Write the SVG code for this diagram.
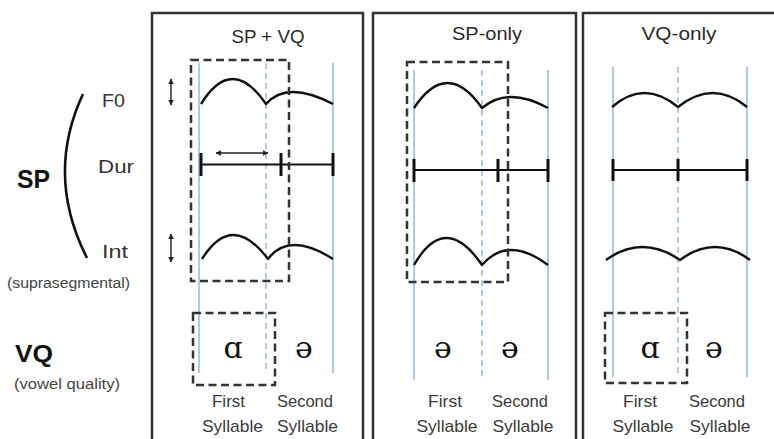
<svg xmlns="http://www.w3.org/2000/svg" width="774" height="439" viewBox="0 0 774 439">
<style>
text{font-family:"Liberation Sans",Arial,sans-serif;fill:#2a2a2a}
.panel{fill:none;stroke:#333;stroke-width:2.5}
.blue{stroke:#9bbbe3;stroke-width:1.6;fill:none}
.bdash{stroke:#9bbbe3;stroke-width:1.6;fill:none;stroke-dasharray:6 4}
.curve{fill:none;stroke:#111;stroke-width:2.4;stroke-linejoin:round}
.dur{stroke:#111;stroke-width:2.2}
.tick{stroke:#111;stroke-width:3}
.box{fill:none;stroke:#333;stroke-width:2.5;stroke-dasharray:8 4.5}
.arr{stroke:#222;stroke-width:1.4;fill:none;marker-start:url(#ah);marker-end:url(#ah)}
.title{font-size:18px;text-anchor:middle}
.lab{font-size:17px;text-anchor:middle;fill:#3a3a3a}
.ipa{font-family:"DejaVu Serif","Liberation Serif",serif;font-size:30px;text-anchor:middle;fill:#111}
.side{font-size:19px;fill:#333}
.big{font-size:26px;font-weight:bold;fill:#111}
.small{font-size:14px;fill:#444}
</style>
<defs>
<marker id="ah" viewBox="0 0 10 10" refX="9" refY="5" markerWidth="4" markerHeight="4" orient="auto-start-reverse">
<path d="M0,0 L10,5 L0,10 z" fill="#222"/>
</marker>
</defs>

<g id="legend">
<path d="M83,94 Q45,175 87,258" fill="none" stroke="#111" stroke-width="2.6"/>
<text class="big" x="17" y="188" textLength="33" lengthAdjust="spacingAndGlyphs">SP</text>
<text class="side" x="102" y="107" textLength="23" lengthAdjust="spacingAndGlyphs">F0</text>
<text class="side" x="98" y="173" textLength="36" lengthAdjust="spacingAndGlyphs">Dur</text>
<text class="side" x="102" y="258" textLength="26" lengthAdjust="spacingAndGlyphs">Int</text>
<text class="small" x="7" y="288" textLength="123" lengthAdjust="spacingAndGlyphs">(suprasegmental)</text>
<text class="big" x="15" y="362" style="font-size:24px" textLength="38" lengthAdjust="spacingAndGlyphs">VQ</text>
<text class="small" x="14" y="389" textLength="106" lengthAdjust="spacingAndGlyphs">(vowel quality)</text>
</g>

<g id="panel-sp-vq">
<rect class="panel" x="152" y="13" width="211" height="440"/>
<text class="title" x="268" y="43" textLength="73" lengthAdjust="spacingAndGlyphs">SP + VQ</text>
<line class="blue" x1="199" y1="63" x2="199" y2="373"/>
<line class="bdash" x1="266" y1="63" x2="266" y2="373"/>
<line class="blue" x1="333" y1="63" x2="333" y2="373"/>
<path class="curve" d="M201,104 Q232,54 266,104 Q287,80 333,104"/>
<line class="dur" x1="201" y1="164.5" x2="333" y2="164.5"/>
<line class="tick" x1="201" y1="153" x2="201" y2="176"/>
<line class="tick" x1="281" y1="153" x2="281" y2="176"/>
<line class="tick" x1="333" y1="153" x2="333" y2="176"/>
<path class="curve" d="M202,259 Q232,211 268,259 Q289,231 333,259"/>
<rect class="box" x="191" y="60" width="98" height="221"/>
<rect class="box" x="193" y="313" width="82" height="72"/>
<text class="ipa" x="233" y="358">ɑ</text>
<text class="ipa" x="304" y="358">ə</text>
<text class="lab" x="228.5" y="407" textLength="33" lengthAdjust="spacingAndGlyphs">First</text>
<text class="lab" x="232.5" y="432" textLength="61" lengthAdjust="spacingAndGlyphs">Syllable</text>
<text class="lab" x="305" y="407" textLength="56" lengthAdjust="spacingAndGlyphs">Second</text>
<text class="lab" x="307.5" y="432" textLength="61" lengthAdjust="spacingAndGlyphs">Syllable</text>
</g>

<g id="panel-sp-only">
<rect class="panel" x="373" y="13" width="203" height="440"/>
<text class="title" x="487" y="40" textLength="70" lengthAdjust="spacingAndGlyphs">SP-only</text>
<line class="blue" x1="414" y1="70" x2="414" y2="380"/>
<line class="bdash" x1="482" y1="70" x2="482" y2="380"/>
<line class="blue" x1="548" y1="70" x2="548" y2="380"/>
<path class="curve" d="M414,108 Q447,58 482,108 Q508,86 548,108"/>
<line class="dur" x1="414" y1="170" x2="548" y2="170"/>
<line class="tick" x1="414" y1="159" x2="414" y2="182"/>
<line class="tick" x1="498" y1="159" x2="498" y2="182"/>
<line class="tick" x1="548" y1="159" x2="548" y2="182"/>
<path class="curve" d="M414,265 Q445,211 482,265 Q508,235 548,265"/>
<rect class="box" x="407" y="62" width="101" height="220"/>
<text class="ipa" x="443" y="358">ə</text>
<text class="ipa" x="510" y="358">ə</text>
<text class="lab" x="445" y="407" textLength="34" lengthAdjust="spacingAndGlyphs">First</text>
<text class="lab" x="447" y="432" textLength="61" lengthAdjust="spacingAndGlyphs">Syllable</text>
<text class="lab" x="520" y="407" textLength="56" lengthAdjust="spacingAndGlyphs">Second</text>
<text class="lab" x="523" y="432" textLength="61" lengthAdjust="spacingAndGlyphs">Syllable</text>
</g>

<g id="panel-vq-only">
<rect class="panel" x="583" y="13" width="200" height="440"/>
<text class="title" x="679" y="40" textLength="75" lengthAdjust="spacingAndGlyphs">VQ-only</text>
<line class="blue" x1="613" y1="67" x2="613" y2="377"/>
<line class="bdash" x1="678" y1="67" x2="678" y2="377"/>
<line class="blue" x1="747" y1="67" x2="747" y2="377"/>
<path class="curve" d="M612,107 Q644,79 678,107 Q713,79 747,107"/>
<line class="dur" x1="613" y1="170" x2="747" y2="170"/>
<line class="tick" x1="613" y1="159" x2="613" y2="181"/>
<line class="tick" x1="678" y1="159" x2="678" y2="181"/>
<line class="tick" x1="747" y1="159" x2="747" y2="181"/>
<path class="curve" d="M606,260 Q642,234 680,260 Q715,234 750,260"/>
<rect class="box" x="605" y="313" width="82" height="70"/>
<text class="ipa" x="650" y="358">ɑ</text>
<text class="ipa" x="714" y="358">ə</text>
<text class="lab" x="640" y="407" textLength="34" lengthAdjust="spacingAndGlyphs">First</text>
<text class="lab" x="643" y="432" textLength="61" lengthAdjust="spacingAndGlyphs">Syllable</text>
<text class="lab" x="717" y="407" textLength="56" lengthAdjust="spacingAndGlyphs">Second</text>
<text class="lab" x="720" y="432" textLength="61" lengthAdjust="spacingAndGlyphs">Syllable</text>
</g>

<g id="connectors">
<line class="arr" x1="171" y1="79" x2="171" y2="105"/>
<line class="arr" x1="171" y1="234" x2="171" y2="262"/>
<line class="arr" x1="216" y1="153" x2="268" y2="153"/>
</g>
</svg>
